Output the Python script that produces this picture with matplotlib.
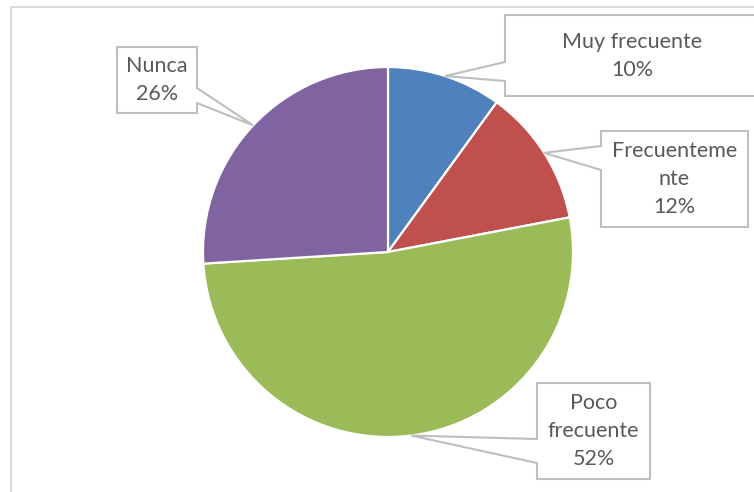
import matplotlib.pyplot as plt
import numpy as np
from matplotlib.patches import Polygon

# Data
categories = ['Muy frecuente', 'Frecuentemente', 'Poco frecuente', 'Nunca']
values = [10, 12, 52, 26]
# the label text as wrapped in the original boxes
wrapped = ['Muy frecuente', 'Frecuenteme\nnte', 'Poco\nfrecuente', 'Nunca']

colors = ['#4F81BD', '#C0504D', '#9BBB59', '#8064A2']
text_color = '#595959'
box_edge = '#BFBFBF'

W, H = 754, 492
fig = plt.figure(figsize=(W / 100, H / 100), dpi=100)
ax = fig.add_axes([0, 0, 1, 1])


def Y(y):
    # pixel-from-top to axes y
    return H - y


# chart area border (only left and top are visible)
ax.plot([10.5, 10.5, W + 5], [Y(H + 5), Y(6.5), Y(6.5)], color='#D9D9D9', lw=1.4,
        solid_capstyle='butt', zorder=1)

# Pie
cx, cy, r = 388, 252, 185
wedges, _ = ax.pie(values, colors=colors, startangle=90, counterclock=False,
                   center=(cx, Y(cy)), radius=r, frame=True,
                   wedgeprops=dict(edgecolor='white', linewidth=1.6))
ax.set_xlim(0, W)
ax.set_ylim(0, H)
ax.axis('off')

# callout boxes: (left, top, right, bottom), side of the pointer, pointer base span
boxes = [
    ((505, 15, 762, 96), 'left', (62, 81)),
    ((601, 131, 748, 227), 'left', (146, 170)),
    ((537, 383, 650, 479), 'left', (439, 463)),
    ((117, 47, 197, 113), 'right', (88, 103)),
]

for w, txt, val, (box, side, (b0, b1)) in zip(wedges, wrapped, values, boxes):
    mid = np.deg2rad((w.theta1 + w.theta2) / 2)
    tip = (w.center[0] + r * np.cos(mid), w.center[1] + r * np.sin(mid))
    x0, y0, x1, y1 = box
    if side == 'left':
        pts = [(x0, Y(y0)), (x1, Y(y0)), (x1, Y(y1)), (x0, Y(y1)),
               (x0, Y(b1)), tip, (x0, Y(b0))]
    else:
        pts = [(x0, Y(y0)), (x1, Y(y0)), (x1, Y(b0)), tip,
               (x1, Y(b1)), (x1, Y(y1)), (x0, Y(y1))]
    ax.add_patch(Polygon(pts, closed=True, facecolor='white', edgecolor=box_edge,
                         lw=1.5, joinstyle='miter', zorder=3))
    tx = 632 if x1 > W else (x0 + x1) / 2
    ax.text(tx, Y((y0 + y1) / 2), f'{txt}\n{val}%', ha='center', va='center',
            fontsize=15.5, color=text_color, family='Lato', linespacing=1.5,
            zorder=4)

fig.savefig('out.png', dpi=100)
